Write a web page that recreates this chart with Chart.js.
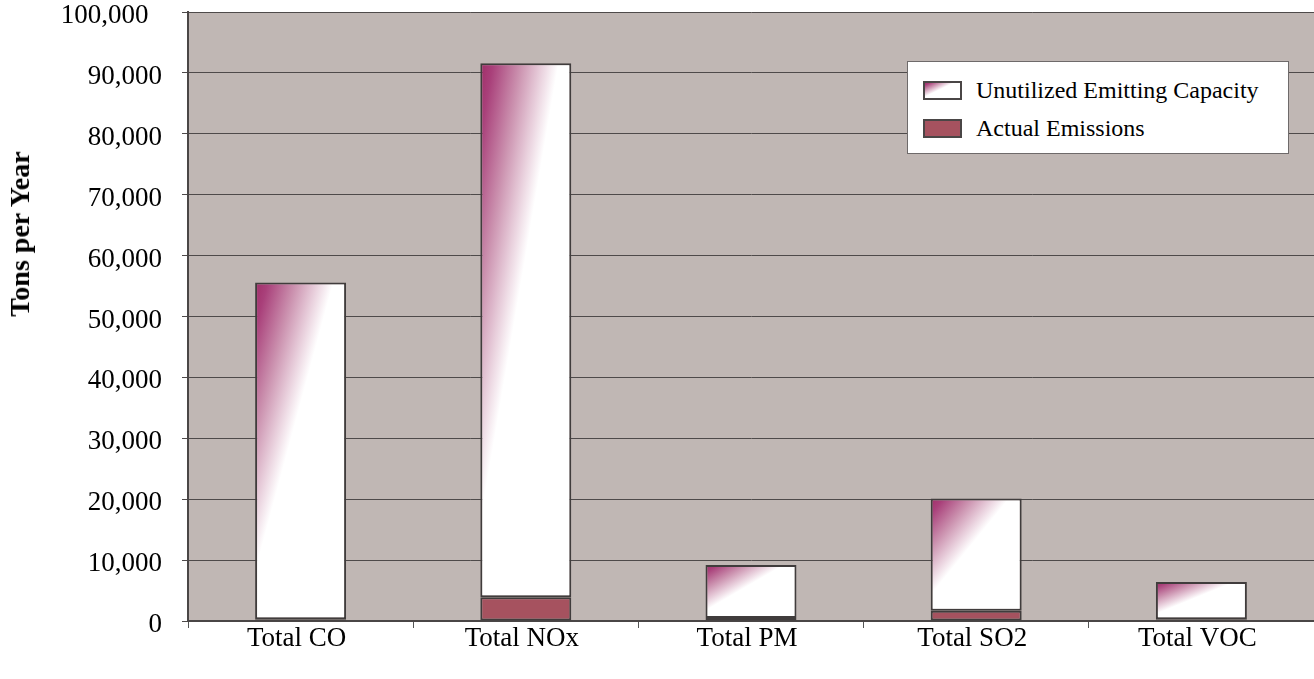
<!DOCTYPE html>
<html>
<head>
<meta charset="utf-8">
<title>Emitting Capacity vs Actual Emissions</title>
<script src="https://cdn.jsdelivr.net/npm/chart.js@4.4.1/dist/chart.umd.min.js"></script>
<style>
  html, body { margin: 0; padding: 0; background: #ffffff; }
  #wrap { position: relative; width: 1314px; height: 679px; }
  #chart { position: absolute; left: 0; top: 0; }
  #ytitle {
    position: absolute; left: 20px; top: 234px; transform: translate(-50%, -50%) rotate(-90deg);
    white-space: nowrap; font-family: "Liberation Serif", "Times New Roman", serif;
    font-size: 28px; font-weight: bold; color: #000; line-height: 1;
  }
  #legend {
    position: absolute; left: 907px; top: 61px; width: 382px; height: 93px;
    background: #ffffff; border: 1px solid #6e6a6a; box-sizing: border-box;
    font-family: "Liberation Serif", "Times New Roman", serif; font-size: 24px; color: #000;
  }
  .item { position: absolute; left: 15px; height: 20px; display: flex; align-items: center; }
  .swatch { width: 39px; height: 19px; box-sizing: border-box; border: 2px solid #4a4646; margin-right: 14px; }
  #sw-unused { background: linear-gradient(154deg, #a02e68 0%, #a9407a 7%, #cc93b0 22%, #ffffff 43%); }
  #sw-actual { background: #a6525f; }
</style>
</head>
<body>
<div id="wrap">
  <canvas id="chart" width="1314" height="679"></canvas>
  <div id="ytitle">Tons per Year</div>
  <div id="legend">
    <div class="item" style="top:18px"><div class="swatch" id="sw-unused"></div><span>Unutilized Emitting Capacity</span></div>
    <div class="item" style="top:56px"><div class="swatch" id="sw-actual"></div><span>Actual Emissions</span></div>
  </div>
</div>
<script>
// Pollutant categories and their annual tonnages
const categories = ['Total CO', 'Total NOx', 'Total PM', 'Total SO2', 'Total VOC'];
const actualEmissions = [300, 3900, 500, 1700, 300];
const unutilizedCapacity = [55300, 87700, 8700, 18400, 6100];
const yTicks = [0, 10000, 20000, 30000, 40000, 50000, 60000, 70000, 80000, 90000, 100000];

const SERIF = '"Liberation Serif", "Times New Roman", serif';
const BAR_FRACTION = 0.404;

// "From corner" fill: dark plum at the bar's top-left corner fading to
// white, with contour lines parallel to the bar's anti-diagonal.
function cornerFill(ctx) {
  const chart = ctx.chart;
  const xs = chart.scales.x, ys = chart.scales.y;
  if (!chart.chartArea || !xs || !ys) return '#e8d0dc';
  const i = ctx.dataIndex;
  const band = xs.width / categories.length;
  const w = band * BAR_FRACTION;
  const x0 = xs.getPixelForValue(i) - w / 2;
  const y0 = ys.getPixelForValue(actualEmissions[i] + unutilizedCapacity[i]);
  const y1 = ys.getPixelForValue(actualEmissions[i]);
  const h = Math.max(1, y1 - y0);
  const k = (w * h) / (w * w + h * h);
  const g = chart.ctx.createLinearGradient(x0, y0, x0 + h * k, y0 + w * k);
  g.addColorStop(0, '#a02e68');
  g.addColorStop(0.14, '#a9407a');
  g.addColorStop(0.45, '#cc93b0');
  g.addColorStop(0.86, '#ffffff');
  g.addColorStop(1, '#ffffff');
  return g;
}

// Fill the plotting area with the warm grey backdrop
const plotBackground = {
  id: 'plotBackground',
  beforeDraw(chart) {
    const { ctx, chartArea: a } = chart;
    ctx.save();
    ctx.fillStyle = '#c0b7b4';
    ctx.fillRect(a.left, a.top, a.right - a.left, a.bottom - a.top);
    ctx.restore();
  }
};

new Chart(document.getElementById('chart'), {
  type: 'bar',
  data: {
    labels: categories,
    datasets: [
      {
        label: 'Actual Emissions',
        data: actualEmissions,
        backgroundColor: '#a6525f',
        borderColor: '#403c3c',
        borderWidth: 2,
        borderSkipped: false,
        barPercentage: 1,
        categoryPercentage: BAR_FRACTION
      },
      {
        label: 'Unutilized Emitting Capacity',
        data: unutilizedCapacity,
        backgroundColor: cornerFill,
        borderColor: '#403c3c',
        borderWidth: 2,
        borderSkipped: false,
        barPercentage: 1,
        categoryPercentage: BAR_FRACTION
      }
    ]
  },
  options: {
    responsive: false,
    animation: false,
    events: [],
    layout: { padding: { top: 12, right: 0, left: 0, bottom: 0 } },
    plugins: {
      legend: { display: false },
      tooltip: { enabled: false }
    },
    scales: {
      x: {
        stacked: true,
        offset: true,
        grid: { offset: true, drawOnChartArea: false, color: '#555', lineWidth: 1, tickLength: 7 },
        border: { color: '#4a4646', width: 2 },
        ticks: { color: '#000', font: { family: SERIF, size: 27 }, padding: -5, labelOffset: -4 },
        afterFit(scale) { scale.height = 58; scale.paddingLeft = 0; scale.paddingRight = 0; }
      },
      y: {
        stacked: true,
        min: 0,
        max: 100000,
        afterBuildTicks(scale) { scale.ticks = yTicks.map(v => ({ value: v })); },
        grid: { color: '#4e4a4a', lineWidth: 1, tickLength: 6 },
        border: { color: '#4a4646', width: 2 },
        ticks: {
          color: '#000',
          font: { family: SERIF, size: 27 },
          padding: 20,
          labelOffset: 4,
          callback(v) {
            const s = Number(v).toLocaleString('en-US');
            return v === 100000 ? s + '\u2002' : s;
          }
        },
        afterFit(scale) { scale.width = 188; scale.paddingTop = 0; scale.paddingBottom = 0; }
      }
    }
  },
  plugins: [plotBackground]
});
</script>
</body>
</html>
